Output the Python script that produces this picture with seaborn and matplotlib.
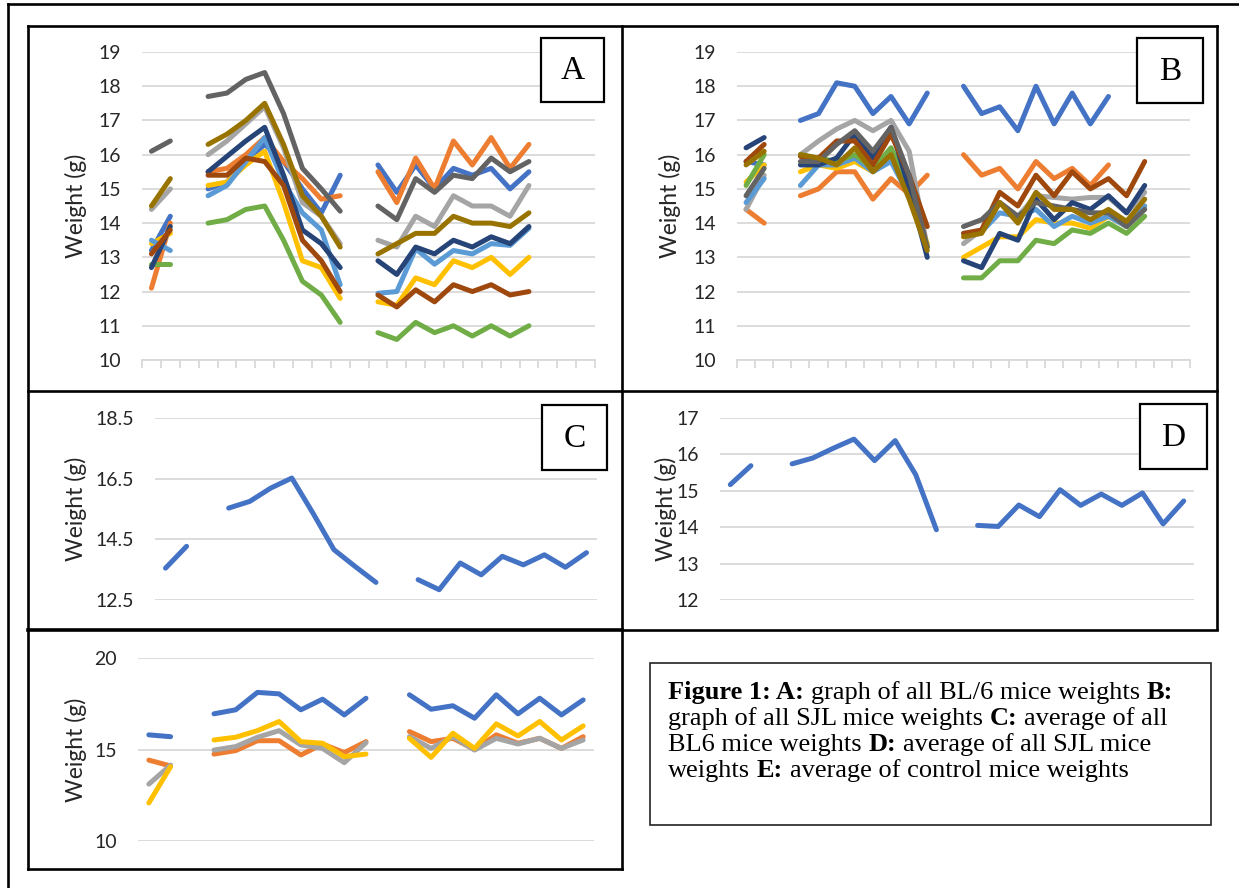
import numpy as np
import pandas as pd
import matplotlib
matplotlib.use("Agg")
import matplotlib.pyplot as plt
from matplotlib.lines import Line2D
from matplotlib.patches import Rectangle
import seaborn as sns

# ---- data (None = no measurement on that day) ----
N = None
series_names = ["s1", "s2", "s3", "s4", "s5", "s6", "s7", "s8", "s9", "s10"]
excel_colors = ["#4472C4", "#ED7D31", "#A5A5A5", "#FFC000", "#5B9BD5",
                "#70AD47", "#264478", "#9E480E", "#636363", "#997300"]

# panel A: BL/6 mice, 24 day slots
bl6_weights = {
    "s1": [13.2, 14.2, N, 15.0, 15.2, 15.8, 16.3, 15.8, 15.0, 14.3, 15.4, N, 15.7, 14.9, 15.7, 15.0, 15.6, 15.4, 15.6, 15.0, 15.5, N, N, N],
    "s2": [12.1, 14.0, N, 15.5, 15.6, 16.0, 16.5, 15.8, 15.3, 14.7, 14.8, N, 15.5, 14.6, 15.9, 15.0, 16.4, 15.7, 16.5, 15.6, 16.3, N, N, N],
    "s3": [14.4, 15.0, N, 16.0, 16.4, 16.9, 17.4, 16.2, 14.6, 14.2, 13.4, N, 13.5, 13.3, 14.2, 13.9, 14.8, 14.5, 14.5, 14.2, 15.1, N, N, N],
    "s4": [13.4, 13.7, N, 15.1, 15.2, 15.7, 16.1, 14.6, 12.9, 12.7, 11.8, N, 11.7, 11.6, 12.4, 12.2, 12.9, 12.7, 13.0, 12.5, 13.0, N, N, N],
    "s5": [13.5, 13.2, N, 14.8, 15.1, 15.8, 16.5, 15.2, 14.3, 13.8, 12.2, N, 11.95, 12.0, 13.25, 12.8, 13.2, 13.1, 13.4, 13.35, 13.85, N, N, N],
    "s6": [12.8, 12.8, N, 14.0, 14.1, 14.4, 14.5, 13.5, 12.3, 11.9, 11.1, N, 10.8, 10.6, 11.1, 10.8, 11.0, 10.7, 11.0, 10.7, 11.0, N, N, N],
    "s7": [12.7, 13.9, N, 15.5, 15.95, 16.4, 16.8, 15.4, 13.8, 13.4, 12.7, N, 12.9, 12.5, 13.3, 13.1, 13.5, 13.3, 13.6, 13.4, 13.9, N, N, N],
    "s8": [13.1, 13.8, N, 15.4, 15.4, 15.9, 15.8, 15.1, 13.5, 12.9, 12.0, N, 11.9, 11.55, 12.05, 11.7, 12.2, 12.0, 12.2, 11.9, 12.0, N, N, N],
    "s9": [16.1, 16.4, N, 17.7, 17.8, 18.2, 18.4, 17.2, 15.6, 15.0, 14.35, N, 14.5, 14.1, 15.3, 14.9, 15.4, 15.3, 15.9, 15.5, 15.8, N, N, N],
    "s10": [14.5, 15.3, N, 16.3, 16.6, 17.0, 17.5, 16.3, 14.8, 14.2, 13.3, N, 13.1, 13.4, 13.7, 13.7, 14.2, 14.0, 14.0, 13.9, 14.3, N, N, N],
}

# panel B: SJL mice, 25 day slots
sjl_weights = {
    "s1": [15.8, 15.7, N, 17.0, 17.2, 18.1, 18.0, 17.2, 17.7, 16.9, 17.8, N, 18.0, 17.2, 17.4, 16.7, 18.0, 16.9, 17.8, 16.9, 17.7, N, N, N, N],
    "s2": [14.4, 14.0, N, 14.8, 15.0, 15.5, 15.5, 14.7, 15.3, 14.85, 15.4, N, 16.0, 15.4, 15.6, 15.0, 15.8, 15.3, 15.6, 15.1, 15.7, N, N, N, N],
    "s3": [14.4, 15.4, N, 16.0, 16.4, 16.75, 17.0, 16.7, 17.0, 16.1, 13.3, N, 13.4, 13.8, 14.6, 14.2, 14.8, 14.75, 14.7, 14.75, 14.75, 14.3, 14.9, N, N],
    "s4": [15.2, 15.7, N, 15.5, 15.7, 15.6, 15.8, 15.5, 15.9, 14.8, 13.4, N, 13.0, 13.3, 13.6, 13.6, 14.1, 14.0, 14.0, 13.85, 14.2, 13.9, 14.5, N, N],
    "s5": [14.6, 15.3, N, 15.1, 15.7, 15.7, 15.9, 15.5, 15.8, 14.8, 13.3, N, 13.7, 13.75, 14.3, 14.2, 14.4, 13.9, 14.2, 14.0, 14.2, 13.9, 14.5, N, N],
    "s6": [15.1, 16.0, N, 16.0, 15.9, 15.8, 16.0, 15.6, 16.2, 15.0, 13.3, N, 12.4, 12.4, 12.9, 12.9, 13.5, 13.4, 13.8, 13.7, 14.0, 13.7, 14.2, N, N],
    "s7": [16.2, 16.5, N, 15.7, 15.7, 15.9, 16.6, 15.9, 16.8, 15.0, 13.0, N, 12.9, 12.7, 13.7, 13.5, 14.7, 14.1, 14.6, 14.4, 14.8, 14.3, 15.1, N, N],
    "s8": [15.8, 16.3, N, 15.95, 15.9, 16.4, 16.4, 15.7, 16.6, 15.4, 13.9, N, 13.7, 13.8, 14.9, 14.5, 15.4, 14.8, 15.5, 15.0, 15.3, 14.8, 15.8, N, N],
    "s9": [14.8, 15.6, N, 15.8, 15.8, 16.3, 16.7, 16.1, 16.8, 15.4, 13.3, N, 13.9, 14.1, 14.6, 14.2, 14.6, 14.5, 14.4, 14.3, 14.3, 13.9, 14.4, N, N],
    "s10": [15.7, 16.1, N, 16.0, 15.9, 15.7, 16.2, 15.5, 16.0, 14.7, 13.2, N, 13.6, 13.7, 14.6, 14.0, 14.9, 14.4, 14.4, 14.1, 14.4, 14.05, 14.7, N, N],
}

# panel C: average BL6, 21 day slots
bl6_avg = [13.55, 14.27, N, 15.53, 15.75, 16.19, 16.52, 15.37, 14.16, 13.61, 13.08, N,
           13.17, 12.84, 13.72, 13.33, 13.94, 13.66, 13.99, 13.58, 14.06]

# panel D: average SJL, 23 day slots
sjl_avg = [15.17, 15.69, N, 15.74, 15.9, 16.17, 16.42, 15.83, 16.38, 15.44, 13.93, N,
           14.05, 14.02, 14.61, 14.29, 15.03, 14.6, 14.91, 14.6, 14.94, 14.09, 14.72]

# panel E: control mice, 21 day slots
control_weights = {
    "s1": [15.8, 15.7, N, 16.95, 17.17, 18.12, 18.04, 17.17, 17.75, 16.89, 17.8, N, 17.99, 17.2, 17.39, 16.71, 17.99, 16.95, 17.8, 16.89, 17.71],
    "s2": [14.42, 14.1, N, 14.75, 14.94, 15.48, 15.48, 14.7, 15.3, 14.83, 15.43, N, 15.98, 15.43, 15.61, 15.0, 15.8, 15.34, 15.61, 15.06, 15.7],
    "s3": [13.11, 14.15, N, 14.97, 15.16, 15.67, 16.03, 15.25, 15.06, 14.28, 15.37, N, 15.7, 15.06, 15.7, 14.97, 15.61, 15.3, 15.61, 15.06, 15.52],
    "s4": [12.08, 14.06, N, 15.52, 15.67, 16.03, 16.53, 15.43, 15.34, 14.61, 14.75, N, 15.61, 14.57, 15.89, 15.06, 16.4, 15.74, 16.53, 15.52, 16.29],
}

# ---- style ----
sns.set_theme(style="white")
plt.rcParams["font.family"] = ["Lato", "DejaVu Sans"]

W, H = 1239, 888
fig = plt.figure(figsize=(W / 100, H / 100), dpi=100)
palette = dict(zip(series_names, excel_colors))
GRID = "#D9D9D9"
LW = 3.6


def to_long(weights):
    rows = []
    for name, vals in weights.items():
        seg = 0
        for i, v in enumerate(vals):
            if v is None:
                seg += 1
                continue
            rows.append({"day": i, "weight": v, "series": name, "seg": seg})
    return pd.DataFrame(rows)


def panel(x0, x1, ytop, ybot, weights, nslots, ylim, yticks, ylabels, label_x, ticks_below):
    ax = fig.add_axes([x0 / W, 1 - ybot / H, (x1 - x0) / W, (ybot - ytop) / H])
    df = to_long(weights)
    order = [s for s in series_names if s in weights]
    sns.lineplot(data=df, x="day", y="weight", hue="series", hue_order=order,
                 units="seg", estimator=None, palette=palette, legend=False,
                 lw=LW, solid_capstyle="round", solid_joinstyle="round", ax=ax)
    ax.set_xlim(-0.5, nslots - 0.5)
    ax.set_ylim(*ylim)
    ax.set_yticks(yticks)
    ax.set_yticklabels(ylabels)
    ax.grid(axis="y", color=GRID, lw=1.3)
    ax.grid(axis="x", visible=False)
    ax.set_axisbelow(True)
    for s in ["top", "right", "left", "bottom"]:
        ax.spines[s].set_visible(False)
    ax.tick_params(axis="y", length=0, pad=15, labelsize=14, labelcolor="#262626")
    if ticks_below:
        ax.spines["bottom"].set_visible(True)
        ax.spines["bottom"].set_color(GRID)
        ax.spines["bottom"].set_linewidth(1.3)
        ax.set_xticks(np.arange(-0.5, nslots, 1))
        ax.tick_params(axis="x", length=5.5, width=1.3, color=GRID, direction="out",
                       labelbottom=False, bottom=True)
    else:
        ax.set_xticks([])
    ax.set_xlabel("")
    ax.set_ylabel("Weight (g)", fontsize=16.5, color="#262626", va="center")
    ax.yaxis.set_label_coords((label_x - x0) / (x1 - x0), 0.5)
    ax.patch.set_alpha(0)
    return ax


panel(142, 595, 52, 360, bl6_weights, 24, (10, 19), range(10, 20),
      [str(v) for v in range(10, 20)], 76, True)
panel(737, 1190, 52, 360, sjl_weights, 25, (10, 19), range(10, 20),
      [str(v) for v in range(10, 20)], 670, True)
panel(155, 597, 418, 600, {"s1": bl6_avg}, 21, (12.5, 18.5), [12.5, 14.5, 16.5, 18.5],
      ["12.5", "14.5", "16.5", "18.5"], 76, False)
panel(720, 1194, 418, 600, {"s1": sjl_avg}, 23, (12, 17), range(12, 18),
      [str(v) for v in range(12, 18)], 666, False)
panel(138, 594, 658, 841, control_weights, 21, (10, 20), [10, 15, 20],
      ["10", "15", "20"], 76, False)


# ---- frames ----
def seg(xa, ya, xb, yb, lw=1.9):
    fig.add_artist(Line2D([xa / W, xb / W], [1 - ya / H, 1 - yb / H],
                          transform=fig.transFigure, color="black", lw=lw,
                          solid_capstyle="projecting"))


seg(8, 4, 8, 888)
seg(8, 4, 1239, 4)
seg(28, 26, 1217, 26)
seg(28, 26, 28, 869)
seg(622, 26, 622, 869)
seg(1217, 26, 1217, 629)
seg(28, 391, 1217, 391)
seg(28, 630, 622, 630, lw=2.6)
seg(622, 630, 1217, 630)
seg(28, 869, 622, 869)


def box(xa, ya, xb, yb, lw=1.6, color="black"):
    fig.add_artist(Rectangle((xa / W, 1 - yb / H), (xb - xa) / W, (yb - ya) / H,
                             transform=fig.transFigure, facecolor="white",
                             edgecolor=color, lw=lw))


for letter, (xa, ya, xb, yb) in {"A": (541, 38, 604, 102), "B": (1137, 38, 1203, 103),
                                 "C": (542, 405, 607, 470), "D": (1140, 404, 1207, 469)}.items():
    box(xa, ya, xb, yb)
    fig.text((xa + xb) / 2 / W, 1 - ((ya + yb) / 2 + 1) / H, letter, ha="center", va="center",
             family="Liberation Serif", fontsize=24, color="black")

# ---- caption ----
box(650, 663, 1211, 825, lw=1.2, color="#222222")
caption = [
    [("Figure 1: A:", True), ("graph of all BL/6 mice weights", False), ("B:", True)],
    [("graph of all SJL mice weights", False), ("C:", True), ("average of all", False)],
    [("BL6 mice weights", False), ("D:", True), ("average of all SJL mice", False)],
    [("weights", False), ("E:", True), ("average of control mice weights", False)],
]
renderer = fig.canvas.get_renderer()
cap_size = 19


def text_width(s, bold):
    t = fig.text(0, 0, s, family="Liberation Serif", fontsize=cap_size,
                 weight="bold" if bold else "normal")
    w = t.get_window_extent(renderer).width
    t.remove()
    return w


space = text_width("n n", False) - text_width("nn", False)
for li, line in enumerate(caption):
    x = 668
    y = 699 + li * 26
    for s, bold in line:
        fig.text(x / W, 1 - y / H, s, family="Liberation Serif", fontsize=cap_size,
                 weight="bold" if bold else "normal", ha="left", va="baseline", color="black")
        x += text_width(s, bold) + space

fig.savefig("out.png", dpi=100)
